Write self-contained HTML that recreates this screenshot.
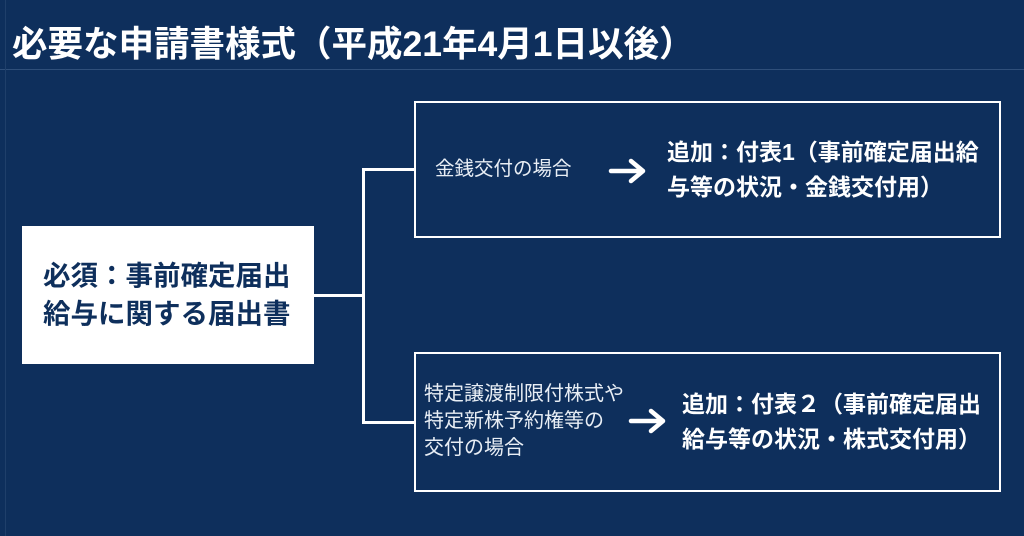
<!DOCTYPE html>
<html><head><meta charset="utf-8"><style>
body{margin:0;width:1024px;height:536px;background:#0e2f5c;overflow:hidden;position:relative;font-family:"Liberation Sans","Noto Sans CJK JP",sans-serif;color:#fff}
.a{position:absolute}
.t{left:12px;top:22px;font-size:35.5px;line-height:44px;font-weight:bold;white-space:nowrap}
.hl{left:0;top:69px;width:1024px;height:1px;background:#2f4f7a}
.vl{left:5px;top:0;width:1px;height:536px;background:#1f3f6a}
.box{border:2.5px solid #fff;box-sizing:border-box}
.s{font-size:19.5px;line-height:27px;color:#e8eef5;white-space:nowrap}
.b{font-size:23px;font-weight:bold;line-height:35px;white-space:nowrap}
.ln{background:#fff}
</style></head><body>
<div class="a hl"></div><div class="a vl"></div>
<div class="a t">必要な申請書様式（平成21年4月1日以後）</div>
<div class="a" style="left:22px;top:226px;width:292px;height:138px;background:#fff;color:#0e2f5c;font-size:27.5px;font-weight:bold;line-height:38px;box-sizing:border-box;padding:31px 0 0 21px;white-space:nowrap">必須：事前確定届出<br>給与に関する届出書</div>
<div class="a ln" style="left:314px;top:294px;width:50px;height:3px"></div>
<div class="a ln" style="left:362px;top:168px;width:3px;height:256px"></div>
<div class="a ln" style="left:362px;top:168px;width:54px;height:3px"></div>
<div class="a ln" style="left:362px;top:421px;width:54px;height:3px"></div>
<div class="a box" style="left:414px;top:101px;width:587px;height:137px"></div>
<div class="a box" style="left:414px;top:352px;width:587px;height:140px"></div>
<div class="a s" style="left:435px;top:156px">金銭交付の場合</div>
<svg class="a" style="left:608px;top:158px" width="40" height="26"><path d="M3 13H34M23 3L35 13L23 23" stroke="#fff" stroke-width="4.5" fill="none" stroke-linecap="round" stroke-linejoin="round"/></svg>
<div class="a b" style="left:667px;top:135px">追加：付表1（事前確定届出給<br>与等の状況・金銭交付用）</div>
<div class="a s" style="left:424px;top:381px;font-size:20px">特定譲渡制限付株式や<br>特定新株予約権等の<br>交付の場合</div>
<svg class="a" style="left:628px;top:408px" width="40" height="26"><path d="M3 13H34M23 3L35 13L23 23" stroke="#fff" stroke-width="4.5" fill="none" stroke-linecap="round" stroke-linejoin="round"/></svg>
<div class="a b" style="left:682px;top:387px">追加：付表２（事前確定届出<br>給与等の状況・株式交付用）</div>
</body></html>
